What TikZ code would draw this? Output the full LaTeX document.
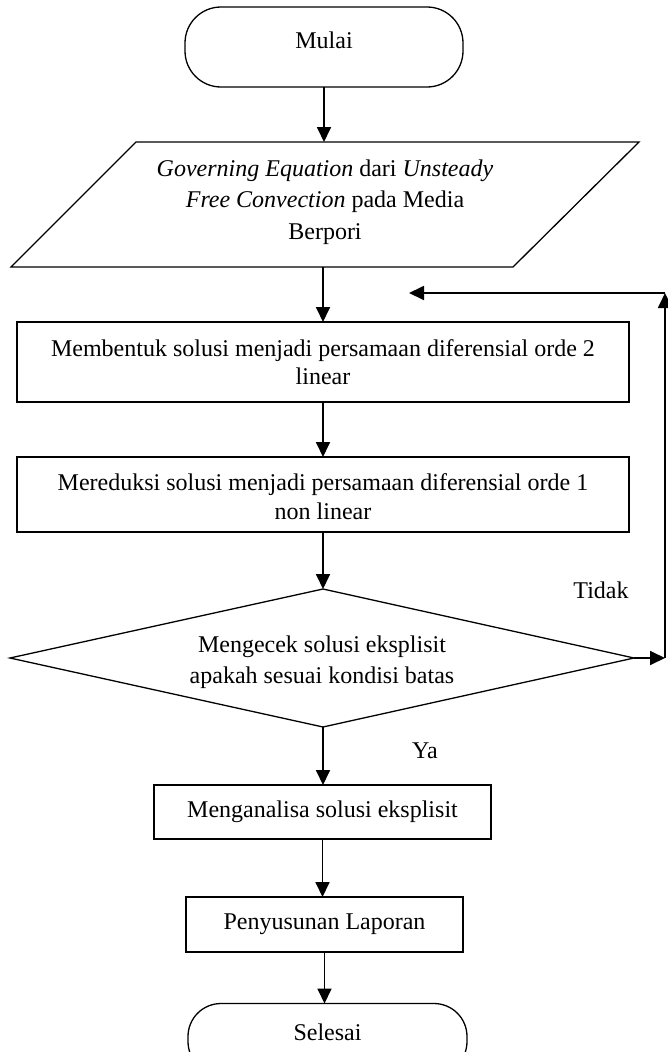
\documentclass[tikz,border=0pt]{standalone}
\usepackage{fontspec}
\setmainfont{Liberation Serif}
\usetikzlibrary{arrows.meta}
\begin{document}
\begin{tikzpicture}[x=1pt,y=-1pt,
  every node/.style={font=\fontsize{24}{28}\selectfont, inner sep=0pt, outer sep=0pt},
  boxnode/.style={draw, line width=1.3pt, rectangle, align=center},
  term/.style={draw, line width=1.3pt, rectangle, rounded corners=36pt},
  shapeline/.style={line width=1.3pt},
  arr/.style={line width=1.8pt, -{Triangle[length=15pt,width=14pt]}},
  lbl/.style={anchor=base}
]
\useasboundingbox (0,0) rectangle (668,1052);
\clip (0,0) rectangle (668,1052);
% start
\node[term, minimum width=278pt, minimum height=80pt] (mulai) at (324,47) {\rule[-14.4pt]{0pt}{14.4pt}Mulai};
% input parallelogram
\coordinate (pTL) at (136,142);
\coordinate (pTR) at (639,142);
\coordinate (pBR) at (513,267);
\coordinate (pBL) at (11,267);
\draw[shapeline] (pTL) -- (pTR) -- (pBR) -- (pBL) -- cycle;
\node[align=center, font=\fontsize{24}{31.5}\selectfont] (gov) at (325,202)
  {\textit{Governing Equation} dari \textit{Unsteady}\\ \textit{Free Convection} pada Media\\ Berpori};
% process boxes
\node[boxnode, minimum width=612pt, minimum height=80pt] (box1) at (323,362)
  {Membentuk solusi menjadi persamaan diferensial orde 2\\ linear};
\node[boxnode, minimum width=612pt, minimum height=75pt, font=\fontsize{24}{29}\selectfont] (box2) at (323,494.5)
  {\rule{0pt}{22pt}Mereduksi solusi menjadi persamaan diferensial orde 1\\ non linear};
% decision
\coordinate (dL) at (10,658);
\coordinate (dR) at (634,658);
\coordinate (dT) at (323,589);
\coordinate (dB) at (323,727);
\draw[shapeline] (dT) -- (dR) -- (dB) -- (dL) -- cycle;
\node[align=center, font=\fontsize{24}{31}\selectfont] (dec) at (322,658)
  {\rule{0pt}{24.2pt}Mengecek solusi eksplisit\\ apakah sesuai kondisi batas};
% later steps
\node[boxnode, minimum width=337pt, minimum height=54pt] (anal) at (322.5,812) {Menganalisa solusi eksplisit};
\node[boxnode, minimum width=277pt, minimum height=55pt] (peny) at (324.5,924.5) {Penyusunan Laporan};
\node[term, minimum width=279pt, minimum height=71pt, rounded corners=33pt] (sel) at (327.5,1039) {\rule[-14.4pt]{0pt}{14.4pt}Selesai};
% labels
\node[lbl] (tidak) at (601,598) {Tidak};
\node[lbl] (ya) at (425,758) {Ya};
% connectors
\draw[arr] (mulai.south) -- (mulai.south |- pTL);
\draw[arr] (box1.north |- pBL) -- (box1.north);
\draw[arr] (box1.south) -- (box2.north);
\draw[arr] (box2.south) -- (box2.south |- dT);
\draw[arr] (dB) -- (dB |- anal.north);
\draw[arr] (anal.south) -- (anal.south |- peny.north);
\draw[arr] (peny.south) -- (peny.south |- sel.north);
% loop back
\coordinate (lr) at (665,658);
\coordinate (ur) at (665,293);
\coordinate (ul) at (409,293);
\draw[arr] (dR) -- (lr);
\draw[arr] (lr) -- (ur);
\draw[arr] (ur) -- (ul);
\end{tikzpicture}
\end{document}
